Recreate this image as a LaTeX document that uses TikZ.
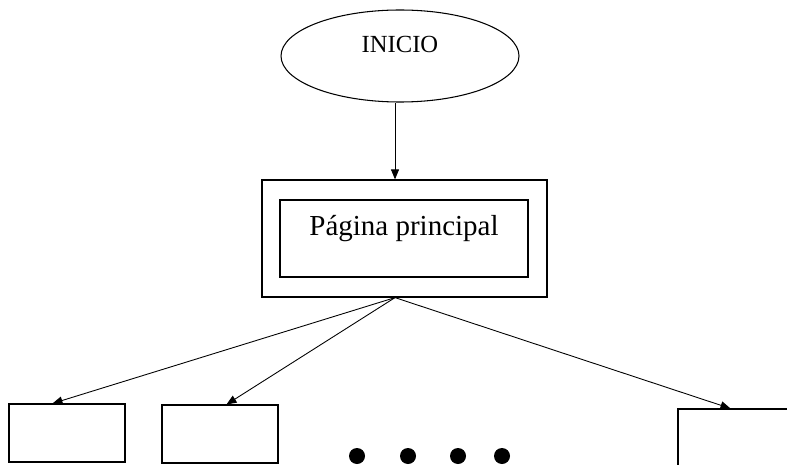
\documentclass[tikz,border=0pt]{standalone}
\usepackage{fontspec}
\setmainfont{Liberation Serif}
\usetikzlibrary{shapes.geometric,arrows.meta,positioning}

\begin{document}
\begin{tikzpicture}[
  start/.style={ellipse,draw,line width=0.6pt,minimum width=4.76cm,
    minimum height=1.84cm,inner sep=0pt,text depth=0.45cm,
    font=\fontsize{14}{16}\selectfont},
  frame/.style={rectangle,draw,line width=0.7pt,minimum width=5.7cm,
    minimum height=2.34cm},
  page/.style={rectangle,draw,line width=0.6pt,minimum width=4.96cm,
    minimum height=1.54cm,inner sep=0pt,text depth=0.52cm,
    font=\fontsize{16.5}{20}\selectfont},
  leaf/.style={rectangle,draw,line width=0.6pt,minimum width=2.32cm,
    minimum height=1.16cm},
  arrow/.style={-{Triangle[length=2mm,width=1.6mm]},line width=0.5pt},
]
  \useasboundingbox (0,0) rectangle (15.74,-9.3);
  \clip (0,0) rectangle (15.74,-9.3);
  \node[start] (inicio) at (8.0,-1.12) {INICIO};
  \node[frame] (outer)  at (8.09,-4.77) {};
  \node[page]  (inner)  at (8.08,-4.77) {Página principal};
  \node[leaf]  (box1)   at (1.34,-8.66) {};
  \node[leaf]  (box2)   at (4.4,-8.68)  {};
  \node[leaf]  (box3)   at (14.72,-8.76) {};
  \foreach \x/\n in {7.14/d1,8.16/d2,9.16/d3,10.04/d4}
    \node[circle,fill,minimum size=0.32cm,inner sep=0pt] (\n) at (\x,-9.12) {};
  \draw[arrow] ([xshift=-0.1cm]inicio.south) -- ([xshift=-0.19cm]outer.north);
  \draw[arrow] ([xshift=-0.19cm]outer.south) -- ([xshift=0.88cm]box1.north west);
  \draw[arrow] ([xshift=-0.19cm]outer.south) -- ([xshift=1.3cm]box2.north west);
  \draw[arrow] ([xshift=-0.19cm]outer.south) -- ([xshift=1.06cm]box3.north west);
\end{tikzpicture}
\end{document}
